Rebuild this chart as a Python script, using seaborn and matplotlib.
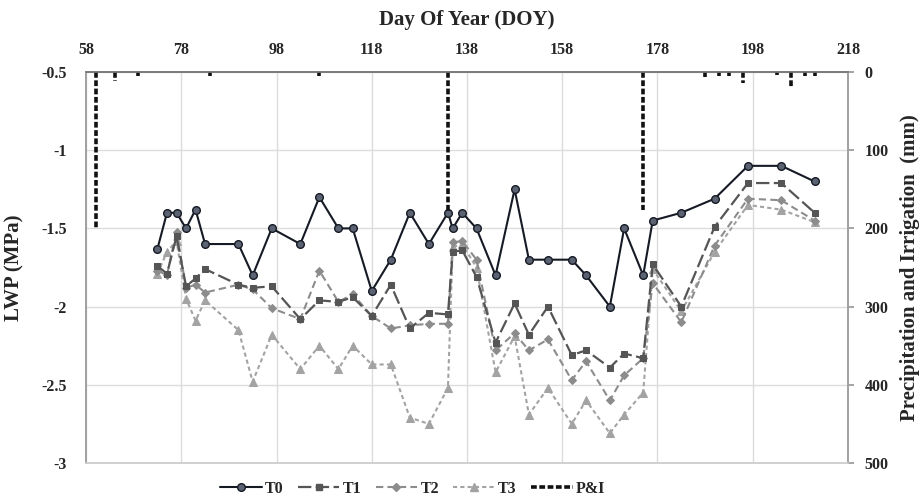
import matplotlib
matplotlib.use("Agg")
import matplotlib.pyplot as plt
from matplotlib.lines import Line2D
import pandas as pd
import seaborn as sns

# Sampling days (DOY) and leaf water potential (MPa) per treatment
doy = [73, 75, 77, 79, 81, 83, 90, 93, 97, 103, 107, 111, 114, 118, 122, 126, 130, 134,
       135, 137, 140, 144, 148, 151, 155, 160, 163, 168, 171, 175, 177, 183, 190, 197, 204, 211]
t0 = [-1.63, -1.40, -1.40, -1.50, -1.38, -1.60, -1.60, -1.80, -1.50, -1.60, -1.30, -1.50,
      -1.50, -1.90, -1.70, -1.40, -1.60, -1.40, -1.50, -1.40, -1.50, -1.80, -1.25, -1.70,
      -1.70, -1.70, -1.80, -2.00, -1.50, -1.80, -1.45, -1.40, -1.31, -1.10, -1.10, -1.20]
t1 = [-1.74, -1.79, -1.55, -1.87, -1.82, -1.76, -1.86, -1.88, -1.87, -2.08, -1.96, -1.97,
      -1.94, -2.06, -1.86, -2.14, -2.04, -2.05, -1.65, -1.64, -1.81, -2.23, -1.98, -2.18,
      -2.00, -2.31, -2.28, -2.39, -2.30, -2.33, -1.73, -2.00, -1.49, -1.21, -1.21, -1.40]
t2 = [-1.77, -1.80, -1.52, -1.88, -1.86, -1.91, -1.86, -1.89, -2.01, -2.08, -1.77, -1.97,
      -1.92, -2.06, -2.14, -2.12, -2.11, -2.11, -1.59, -1.58, -1.70, -2.28, -2.17, -2.28,
      -2.21, -2.47, -2.35, -2.60, -2.44, -2.33, -1.85, -2.10, -1.61, -1.31, -1.32, -1.45]
t3 = [-1.79, -1.65, -1.58, -1.95, -2.09, -1.96, -2.15, -2.48, -2.18, -2.40, -2.25, -2.40,
      -2.25, -2.37, -2.37, -2.71, -2.75, -2.52, -1.62, -1.60, -1.75, -2.42, -2.19, -2.69,
      -2.52, -2.75, -2.60, -2.81, -2.69, -2.55, -1.76, -2.03, -1.65, -1.35, -1.38, -1.46]

# Precipitation and irrigation events (mm)
pi_doy = [60, 64, 69, 84, 107, 134, 175, 188, 191, 193, 196, 203, 206, 209, 211]
pi_mm = [200, 12, 5, 5, 5, 178, 176, 7, 5, 5, 14, 4, 20, 5, 5]

x_ticks = [58, 78, 98, 118, 138, 158, 178, 198, 218]
lwp_ticks = [-0.5, -1, -1.5, -2, -2.5, -3]
lwp_labels = ["-0.5", "-1", "-1.5", "-2", "-2.5", "-3"]
mm_ticks = [0, 100, 200, 300, 400, 500]

sns.set_theme(style="whitegrid")
plt.rcParams["font.family"] = ["Liberation Serif", "DejaVu Serif"]
plt.rcParams["font.weight"] = "bold"

fig = plt.figure(figsize=(9.23, 4.98), dpi=100)
ax = fig.add_axes([0.0932, 0.0703, 0.8255, 0.7851])
ax.set_facecolor("white")

series = [
    ("T0", t0, dict(color="#151a24", marker="o", markersize=5.5, markerfacecolor="#5b6272",
                     markeredgecolor="#151a24", markeredgewidth=1.0, linewidth=1.5, linestyle="-")),
    ("T1", t1, dict(color="#555555", marker="s", markersize=5, markerfacecolor="#555555",
                     markeredgecolor="#555555", linewidth=1.6, linestyle=(0, (6, 2)))),
    ("T2", t2, dict(color="#8c8c8c", marker="D", markersize=4, markerfacecolor="#8c8c8c",
                     markeredgecolor="#8c8c8c", linewidth=1.5, linestyle=(0, (3.5, 2)))),
    ("T3", t3, dict(color="#a3a3a3", marker="^", markersize=5.5, markerfacecolor="#a3a3a3",
                     markeredgecolor="#a3a3a3", linewidth=1.5, linestyle=(0, (2, 1.5)))),
]
for name, vals, kw in reversed(series):
    df = pd.DataFrame({"DOY": doy, "LWP": vals})
    sns.lineplot(data=df, x="DOY", y="LWP", ax=ax, sort=True, legend=False, **kw)

ax.set_xlim(58, 218)
ax.set_ylim(-3, -0.5)
ax.set_xticks(x_ticks)
ax.set_yticks(lwp_ticks)
ax.set_yticklabels(lwp_labels)
ax.xaxis.tick_top()
ax.xaxis.set_label_position("top")
ax.set_xlabel("Day Of Year (DOY)", fontsize=15, fontweight="bold", labelpad=12)
ax.set_ylabel("LWP (MPa)", fontsize=15, fontweight="bold", labelpad=12)
ax.tick_params(axis="x", labelsize=11.5, pad=10, length=0)
ax.tick_params(axis="y", labelsize=11.5, pad=14, length=0)
for lab in ax.get_xticklabels() + ax.get_yticklabels():
    lab.set_fontweight("bold")
ax.grid(True, color="#dcdcdc", linewidth=1.0)

ax2 = ax.twinx()
ax2.grid(False)
ax2.vlines(pi_doy, 0, pi_mm, colors="#111111", linewidth=2.6, linestyles=(0, (1.6, 0.7)))
ax2.set_ylim(500, 0)
ax2.set_yticks(mm_ticks)
ax2.set_ylabel("Precipitation and Irrigation  (mm)", fontsize=15, fontweight="bold",
               labelpad=8)
ax2.tick_params(axis="y", labelsize=11.5, pad=8, length=4, color="#999999", direction="out")
for lab in ax2.get_yticklabels():
    lab.set_fontweight("bold")

for a in (ax, ax2):
    for side, sp in a.spines.items():
        sp.set_visible(True)
        sp.set_linewidth(1.2)
    a.spines["top"].set_color("#7a7a7a")
    a.spines["left"].set_color("#a0a0a0")
    a.spines["right"].set_color("#a0a0a0")
    a.spines["bottom"].set_color("#d0d0d0")

handles = [Line2D([], [], **series[0][2]), Line2D([], [], **series[1][2]),
           Line2D([], [], **series[2][2]), Line2D([], [], **series[3][2]),
           Line2D([], [], color="#111111", linewidth=2.6, linestyle=(0, (1.6, 0.7)))]
fig.legend(handles, ["T0", "T1", "T2", "T3", "P&I"], loc="center", ncol=5,
           bbox_to_anchor=(0.447, 0.018), frameon=False, handlelength=2.6,
           handletextpad=0.2, columnspacing=0.9, prop=dict(size=11.5, weight="bold"))

fig.savefig("out.png", dpi=100, facecolor="white")
